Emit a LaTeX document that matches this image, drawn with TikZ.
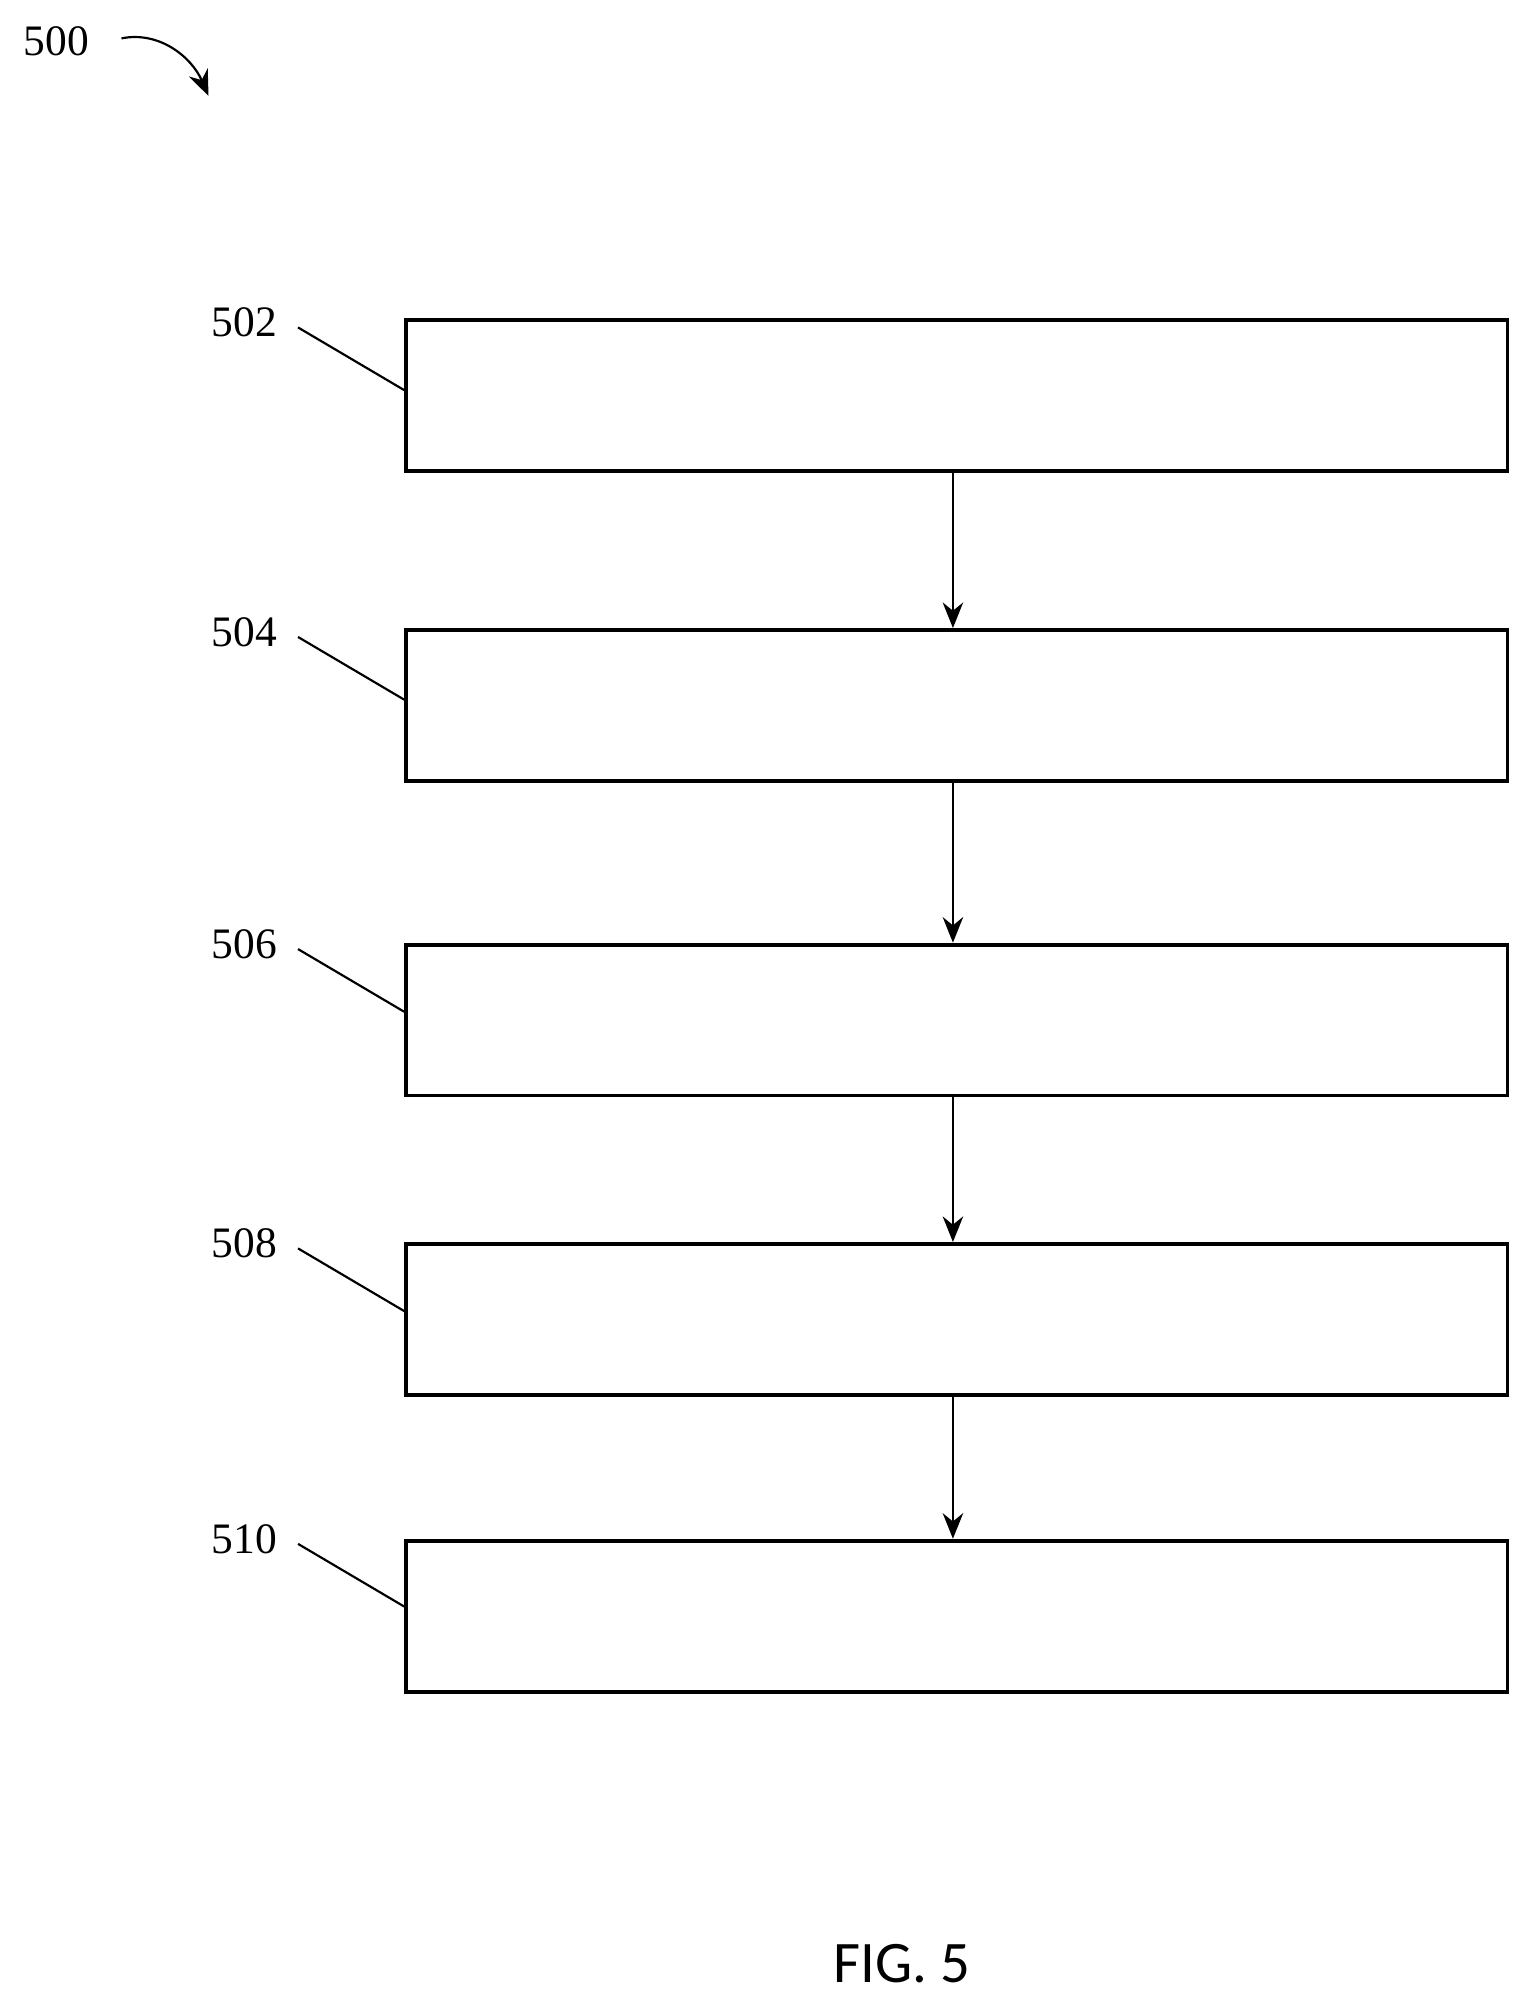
\documentclass[tikz,border=0pt]{standalone}
\usepackage{fontspec}
\setmainfont{Liberation Serif}
\newfontfamily\figfont{Carlito}
\usetikzlibrary{arrows.meta}
\begin{document}
\begin{tikzpicture}[x=1pt,y=-1pt,
  stepbox/.style={draw,line width=3pt,minimum width=861pt,minimum height=118pt,anchor=north west,inner sep=0pt},
  num/.style={font=\fontsize{34}{36}\selectfont,inner sep=0pt},
  lead/.style={line width=1.7pt},
  flow/.style={line width=1.7pt,-{Stealth[length=20pt,width=16pt]}}]
\useasboundingbox (0,0) rectangle (1200,1573);
\node[stepbox] (b1) at (316,249) {};
\node[stepbox] (b2) at (316,491) {};
\node[stepbox] (b3) at (316,737) {};
\node[stepbox] (b4) at (316,971) {};
\node[stepbox] (b5) at (316,1203) {};
\foreach \i/\y/\t in {1/252/502,2/494/504,3/738/506,4/972/508,5/1203/510}{
  \node[num] (l\i) at (191,\y) {\t};
  \coordinate (c\i) at (316,\y+53);
  \draw[lead] (233,\y+4) -- (c\i);
}
\foreach \a/\b in {1/2,2/3,3/4,4/5}{
  \draw[flow] (b\a.south -| 745,0) -- (b\b.north -| 745,0);
}
\node[num] (n500) at (44,32) {500};
\coordinate (e500) at (163,75);
\draw[line width=1.7pt,-{Stealth[length=20pt,width=16pt]}] (95,30) .. controls (125,24) and (150,45) .. (e500);
\node[font=\figfont\fontsize{46}{48}\selectfont] (fig) at (705,1535) {FIG. 5};
\end{tikzpicture}
\end{document}
